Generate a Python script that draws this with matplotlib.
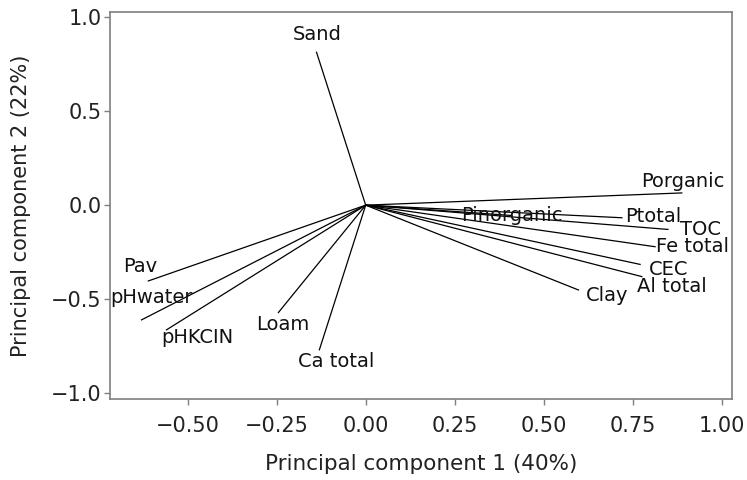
import matplotlib
matplotlib.use('Agg')
import matplotlib.pyplot as plt
from matplotlib.ticker import FixedLocator, FuncFormatter

plt.rcParams['font.family'] = ['DejaVu Sans']

# PCA loadings (PC1, PC2)
variables = ['Sand', 'Porganic', 'Pinorganic', 'Ptotal', 'TOC', 'Fe total', 'CEC',
             'Al total', 'Clay', 'Pav', 'pHwater', 'pHKCIN', 'Loam', 'Ca total']
pc1 = [-0.138, 0.887, 0.41, 0.719, 0.848, 0.812, 0.770,
       0.775, 0.597, -0.610, -0.629, -0.559, -0.245, -0.130]
pc2 = [0.813, 0.065, -0.055, -0.067, -0.129, -0.221, -0.315,
       -0.380, -0.451, -0.403, -0.610, -0.663, -0.571, -0.769]

# label placement relative to the arrow tip: (ha, dx px, dy px up)
label_offsets = {
    'Sand': ('center', 1, 18), 'Porganic': ('center', 1, 11),
    'Pinorganic': ('center', 0, 0), 'Ptotal': ('left', 3, 1),
    'TOC': ('left', 12, 0), 'Fe total': ('left', 1, 0),
    'CEC': ('left', 9, -5), 'Al total': ('left', -5, -10),
    'Clay': ('left', 7, -6), 'Pav': ('center', -8, 14),
    'pHwater': ('center', 10, 22), 'pHKCIN': ('left', -5, -8),
    'Loam': ('center', 4, -12), 'Ca total': ('center', 17, -12),
}

fig = plt.figure(figsize=(7.47, 4.8), dpi=100)
ax = fig.add_axes([0.147, 0.169, 0.833, 0.806])

for name, x, y in zip(variables, pc1, pc2):
    ax.plot([0, x], [0, y], color='black', lw=0.9)
    ha, dx, dy = label_offsets[name]
    ax.annotate(name, (x, y), xytext=(dx * 0.72, dy * 0.72), textcoords='offset points',
                ha=ha, va='center', fontsize=14, color='#111111')

ax.set_xlim(-0.718, 1.028)
ax.set_ylim(-1.03, 1.027)
ax.xaxis.set_major_locator(FixedLocator([-0.5, -0.25, 0, 0.25, 0.5, 0.75, 1.0]))
ax.yaxis.set_major_locator(FixedLocator([-1.0, -0.5, 0, 0.5, 1.0]))
ax.xaxis.set_major_formatter(FuncFormatter(lambda v, p: f'{v:.2f}'.replace('-', '\u2212')))
ax.yaxis.set_major_formatter(FuncFormatter(lambda v, p: f'{v:.1f}'.replace('-', '\u2212')))
ax.tick_params(labelsize=15, colors='#7f7f7f', labelcolor='#222222', length=4, width=1)
ax.tick_params(axis='x', pad=8)
ax.tick_params(axis='y', pad=2)

for spine in ax.spines.values():
    spine.set_color('#7f7f7f')
    spine.set_linewidth(1.2)

ax.set_xlabel('Principal component 1 (40%)', fontsize=15.5, color='#222222', labelpad=13)
ax.set_ylabel('Principal component 2 (22%)', fontsize=15, color='#222222', labelpad=14)

fig.savefig('out.png', dpi=100, facecolor='white')
